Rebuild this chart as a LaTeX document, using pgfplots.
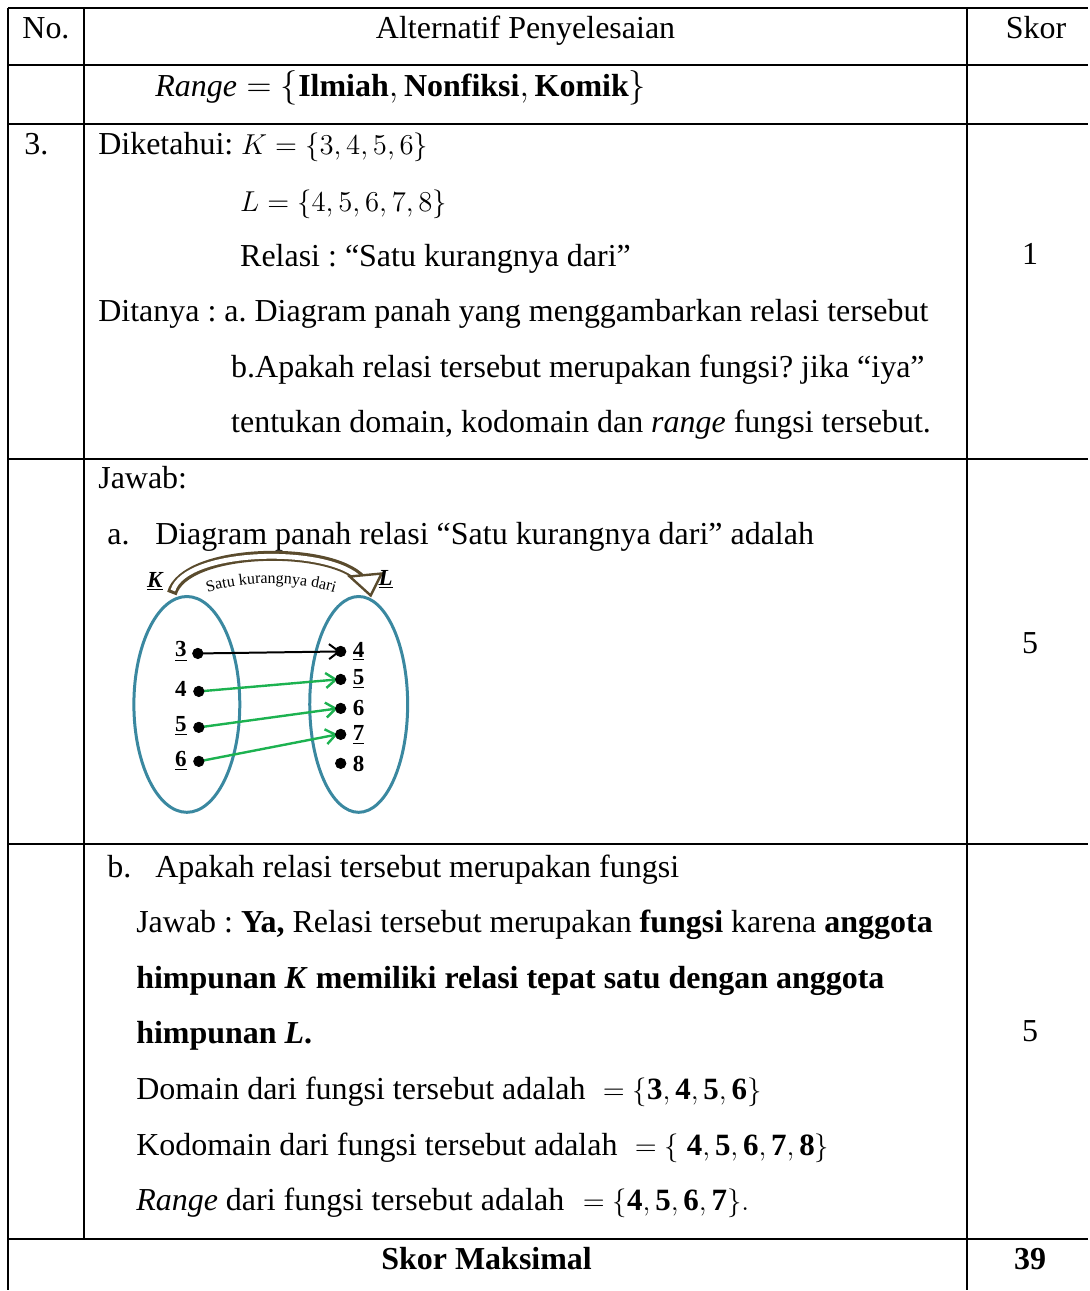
\documentclass[border=0pt]{standalone}
\usepackage{pgfplots}
\pgfplotsset{compat=1.18}
\usepackage{fontspec}
\setmainfont{Liberation Serif}
\usetikzlibrary{arrows.meta,decorations.text}

\definecolor{ovalblue}{RGB}{58,136,160}
\definecolor{arrowgreen}{RGB}{28,178,80}
\definecolor{bowbrown}{RGB}{90,75,45}

\tikzset{
    txt/.style={anchor=base west, inner sep=0pt, font=\fontsize{16}{19}\selectfont},
    ctxt/.style={anchor=base, inner sep=0pt, font=\fontsize{16}{19}\selectfont},
    mtxt/.style={anchor=base west, inner sep=0pt, font=\fontsize{15.5}{18}\selectfont},
    lbl/.style={anchor=center, inner sep=0pt, font=\fontsize{11.5}{12}\selectfont\bfseries},
    barb/.style={-{Straight Barb[length=5pt,width=7.5pt]}},
}

\begin{document}
\frenchspacing
\begin{tikzpicture}
\begin{axis}[
    x=0.5pt, y=0.5pt, y dir=reverse,
    xmin=0, xmax=1089, ymin=0, ymax=1291,
    hide axis, clip=false,
    grid line/.style={black, line width=1.1pt, forget plot},
]
% page extent
\addplot[draw=none, forget plot] coordinates {(0,0) (1089,1291)};

% table rules
\addplot[grid line] coordinates {(8,8) (1089,8)};
\addplot[grid line] coordinates {(8,65) (1089,65)};
\addplot[grid line] coordinates {(8,124) (1089,124)};
\addplot[grid line] coordinates {(8,459) (1089,459)};
\addplot[grid line] coordinates {(8,845) (1089,845)};
\addplot[grid line] coordinates {(8,1240) (1089,1240)};
\addplot[grid line] coordinates {(8,8) (8,1291)};
\addplot[grid line] coordinates {(84,8) (84,1240)};
\addplot[grid line] coordinates {(968,8) (968,1291)};

% header
\node[ctxt] at (axis cs:46,39) {No.};
\node[ctxt] at (axis cs:526,39) {Alternatif Penyelesaian};
\node[ctxt] at (axis cs:1037,39) {Skor};

% row: range
\node[txt] at (axis cs:155,97) {$\mathit{Range} = \{\mathbf{Ilmiah}, \mathbf{Nonfiksi}, \mathbf{Komik}\}$};

% row 3: question
\node[txt] at (axis cs:24,155) {3.};
\node[txt] at (axis cs:98,155) {Diketahui:};
\node[mtxt] at (axis cs:241,155) {$K = \{3, 4, 5, 6\}$};
\node[mtxt] at (axis cs:240,212) {$L = \{4, 5, 6, 7, 8\}$};
\node[txt] at (axis cs:240,267) {Relasi : “Satu kurangnya dari”};
\node[ctxt] at (axis cs:1031,265) {1};
\node[txt] at (axis cs:98,322) {Ditanya : a. Diagram panah yang menggambarkan relasi tersebut};
\node[txt] at (axis cs:231,378) {b.Apakah relasi tersebut merupakan fungsi? jika “iya”};
\node[txt] at (axis cs:231,433) {tentukan domain, kodomain dan \textit{range} fungsi tersebut.};

% row: answer a
\node[txt] at (axis cs:98,489) {Jawab:};
\node[txt] at (axis cs:107,545) {a.};
\node[txt] at (axis cs:155,545) {Diagram panah relasi “Satu kurangnya dari” adalah};
\node[ctxt] at (axis cs:1031,654) {5};

% arrow diagram
\draw[ovalblue, line width=1.5pt] (axis cs:187,705) ellipse [x radius=53, y radius=108];
\draw[ovalblue, line width=1.5pt] (axis cs:359,705) ellipse [x radius=49, y radius=108];

\draw[bowbrown, line width=5pt] (axis cs:172,594) .. controls (axis cs:185,548) and (axis cs:330,545) .. (axis cs:362,580);
\draw[white, line width=2.4pt] (axis cs:173,591) .. controls (axis cs:186,549) and (axis cs:330,546) .. (axis cs:361,580);
\filldraw[fill=white, draw=bowbrown, line width=1.2pt] (axis cs:350,577) -- (axis cs:382,574) -- (axis cs:371,596) -- cycle;
\path[decorate, decoration={text along path, text align=center,
    text={|\fontsize{8}{9}\selectfont|Satu kurangnya dari}}]
    (axis cs:198,596) .. controls (axis cs:240,580) and (axis cs:300,580) .. (axis cs:345,596);

\node[lbl, font=\fontsize{11.5}{12}\selectfont\bfseries\itshape] at (axis cs:155,582) {\underline{K}};
\node[lbl, font=\fontsize{11.5}{12}\selectfont\bfseries\itshape] at (axis cs:386,580) {\underline{L}};

\addplot[black, line width=1pt, barb] coordinates {(199,654) (341,652)};
\addplot[arrowgreen, line width=1.2pt, barb] coordinates {(199,692) (338,680)};
\addplot[arrowgreen, line width=1.2pt, barb] coordinates {(199,728) (338,709)};
\addplot[arrowgreen, line width=1.2pt, barb] coordinates {(199,762) (338,735)};
\addplot[only marks, mark=*, mark size=2.6pt, black] coordinates {
    (198,654) (199,692) (199,728) (199,762)
    (341,652) (341,680) (341,709) (341,735) (341,764)};

\node[lbl] at (axis cs:181,652) {\underline{3}};
\node[lbl] at (axis cs:181,690) {4};
\node[lbl] at (axis cs:181,727) {\underline{5}};
\node[lbl] at (axis cs:181,762) {\underline{6}};
\node[lbl] at (axis cs:359,652) {\underline{4}};
\node[lbl] at (axis cs:359,680) {\underline{5}};
\node[lbl] at (axis cs:359,709) {6};
\node[lbl] at (axis cs:359,736) {\underline{7}};
\node[lbl] at (axis cs:359,765) {8};

% row: answer b
\node[txt] at (axis cs:107,878) {b.};
\node[txt] at (axis cs:155,878) {Apakah relasi tersebut merupakan fungsi};
\node[txt] at (axis cs:136,933) {Jawab : \textbf{Ya,} Relasi tersebut merupakan \textbf{fungsi} karena \textbf{anggota}};
\node[txt] at (axis cs:136,989) {\textbf{himpunan \textit{K} memiliki relasi tepat satu dengan anggota}};
\node[txt] at (axis cs:136,1044) {\textbf{himpunan \textit{L}.}};
\node[txt] at (axis cs:136,1100) {Domain dari fungsi tersebut adalah};
\node[mtxt] at (axis cs:603,1100) {$= \{\mathbf{3}, \mathbf{4}, \mathbf{5}, \mathbf{6}\}$};
\node[txt] at (axis cs:136,1156) {Kodomain dari fungsi tersebut adalah};
\node[mtxt] at (axis cs:635,1156) {$= \{\ \mathbf{4}, \mathbf{5}, \mathbf{6}, \mathbf{7}, \mathbf{8}\}$};
\node[txt] at (axis cs:136,1212) {\textit{Range} dari fungsi tersebut adalah};
\node[mtxt] at (axis cs:583,1212) {$= \{\mathbf{4}, \mathbf{5}, \mathbf{6}, \mathbf{7}\}\mathbf{.}$};
\node[ctxt] at (axis cs:1031,1042) {5};

% footer
\node[ctxt, font=\fontsize{16}{19}\selectfont\bfseries] at (axis cs:487,1271) {Skor Maksimal};
\node[ctxt, font=\fontsize{16}{19}\selectfont\bfseries] at (axis cs:1031,1271) {39};
\end{axis}
\end{tikzpicture}
\end{document}
